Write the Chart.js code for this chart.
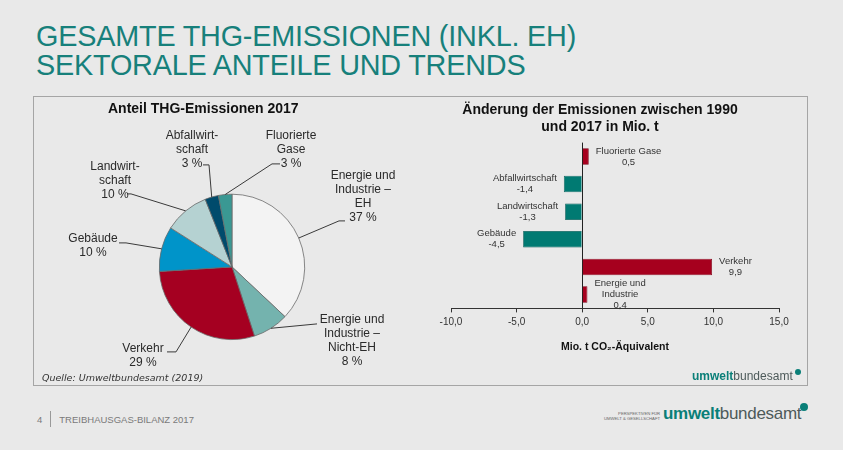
<!DOCTYPE html>
<html><head><meta charset="utf-8">
<script src="https://cdn.jsdelivr.net/npm/chart.js@4.4.0/dist/chart.umd.min.js"></script>
<style>
html,body{margin:0;padding:0;}
body{width:843px;height:450px;background:#e9e9e9;position:relative;overflow:hidden;font-family:"Liberation Sans",Arial,sans-serif;}
#head{position:absolute;left:36px;top:22px;color:#17807b;font-size:28.8px;line-height:29px;letter-spacing:-0.2px;}
#panel{position:absolute;left:33px;top:96px;width:775px;height:290px;border:1px solid #a5a5a5;box-sizing:border-box;}
canvas{position:absolute;}
#pie{left:33px;top:97px;}
#bar{left:400px;top:97px;}
#src{position:absolute;left:42px;top:372px;font-family:"DejaVu Sans",Verdana,sans-serif;font-style:italic;font-size:9.5px;color:#333;}
.logo{position:absolute;white-space:nowrap;}
.logo b{color:#0a7f78;}
.logo span.b{color:#4d5a5a;}
.dot{display:inline-block;border-radius:50%;background:#0a7f78;position:absolute;}
#plogo{left:692px;top:369px;font-size:12px;}
#foot{position:absolute;left:37px;top:412px;font-size:9.5px;color:#7a7a7a;}
#foot .sep{display:inline-block;width:1px;height:16px;background:#999;vertical-align:middle;margin:0 8px 0 8px;position:relative;top:-1px;}
#flogo{left:663px;top:404px;font-size:17px;letter-spacing:-0.3px;}
#persp{position:absolute;left:596px;top:411px;font-size:4.2px;line-height:5px;color:#666;text-align:right;width:64px;}
</style></head><body>
<div id="head">GESAMTE THG-EMISSIONEN (INKL. EH)<br>SEKTORALE ANTEILE UND TRENDS</div>
<div id="panel"></div>
<canvas id="pie" width="397" height="291"></canvas>
<canvas id="bar" width="408" height="291"></canvas>
<div id="src">Quelle: Umweltbundesamt (2019)</div>
<div id="plogo" class="logo"><b>umwelt</b><span class="b">bundesamt</span><span class="dot" style="width:6px;height:6px;left:103px;top:0px;"></span></div>
<div id="foot">4<span class="sep"></span>TREIBHAUSGAS-BILANZ 2017</div>
<div id="persp">PERSPEKTIVEN FÜR<br>UMWELT &amp; GESELLSCHAFT</div>
<div id="flogo" class="logo"><b>umwelt</b><span class="b">bundesamt</span><span class="dot" style="width:8px;height:8px;left:137px;top:-1px;"></span></div>
<script>
// ---------- data ----------
const pieCategories = ["Energie und Industrie – EH","Energie und Industrie – Nicht-EH","Verkehr","Gebäude","Landwirtschaft","Abfallwirtschaft","Fluorierte Gase"];
const pieLabelLines = [["Energie und","Industrie –","EH"],["Energie und","Industrie –","Nicht-EH"],["Verkehr"],["Gebäude"],["Landwirt-","schaft"],["Abfallwirt-","schaft"],["Fluorierte","Gase"]];
const pieShares = [37, 8, 29, 10, 10, 3, 3];
const barCategories = ["Fluorierte Gase","Abfallwirtschaft","Landwirtschaft","Gebäude","Verkehr","Energie und Industrie"];
const barLabelLines = [["Fluorierte Gase"],["Abfallwirtschaft"],["Landwirtschaft"],["Gebäude"],["Verkehr"],["Energie und","Industrie"]];
const barChanges = [0.5, -1.4, -1.3, -4.5, 9.9, 0.4];
const xTickValues = [-10, -5, 0, 5, 10, 15];

// ---------- styles / layout ----------
const FONT = "'Liberation Sans', Arial, sans-serif";
const pieColors = ['#f3f3f3','#74b3ae','#a50021','#0094c9','#b5d2d2','#004b6c','#3a9893'];
// label placement relative to pie centre: text (first-line centre), elbow, end of leader line
const pieLabelLayout = [
  {text:[131,-91], elbow:[107,-46], end:[113,-46]},
  {text:[120,53],  elbow:[85,57],   end:[85,57]},
  {text:[-89,82],  elbow:[-56,85],  end:[-65,85]},
  {text:[-139,-28],elbow:[-106,-24],end:[-113,-24]},
  {text:[-117,-100],elbow:[-101,-73],end:[-105,-73]},
  {text:[-40,-131],elbow:[-23,-102],end:[-29,-102]},
  {text:[59,-131], elbow:[40,-103], end:[48,-103]}
];
const fmt = v => v.toFixed(1).replace('.', ',');

const pieLabelPlugin = {
  id: 'pieLabels',
  afterDatasetsDraw(chart) {
    const ctx = chart.ctx;
    const meta = chart.getDatasetMeta(0);
    ctx.save();
    ctx.font = '12px ' + FONT;
    ctx.fillStyle = '#2a2a2a';
    ctx.textAlign = 'center';
    ctx.textBaseline = 'middle';
    ctx.strokeStyle = '#3a3a3a';
    ctx.lineWidth = 1;
    meta.data.forEach((arc, i) => {
      const p = arc.getProps(['x','y','startAngle','endAngle','outerRadius'], true);
      const mid = (p.startAngle + p.endAngle) / 2;
      const sx = p.x + Math.cos(mid) * p.outerRadius;
      const sy = p.y + Math.sin(mid) * p.outerRadius;
      const L = pieLabelLayout[i];
      ctx.beginPath();
      ctx.moveTo(sx, sy);
      ctx.lineTo(p.x + L.elbow[0], p.y + L.elbow[1]);
      ctx.lineTo(p.x + L.end[0], p.y + L.end[1]);
      ctx.stroke();
      const lines = pieLabelLines[i].concat([pieShares[i] + ' %']);
      lines.forEach((t, k) => ctx.fillText(t, p.x + L.text[0], p.y + L.text[1] + k * 14));
    });
    ctx.restore();
  }
};

new Chart(document.getElementById('pie'), {
  type: 'pie',
  data: { labels: pieCategories, datasets: [{ data: pieShares, backgroundColor: pieColors, borderColor: '#6a6a6a', borderWidth: 0.8 }] },
  options: {
    responsive: false, animation: false,
    layout: { padding: { left: 75, right: 74, top: 0, bottom: 48 } },
    plugins: {
      legend: { display: false }, tooltip: { enabled: false },
      title: { display: true, align: 'start', text: 'Anteil THG-Emissionen 2017', color: '#111', font: { family: FONT, size: 14, weight: 'bold' }, padding: { top: 4, bottom: 76 } }
    }
  },
  plugins: [pieLabelPlugin]
});

const barLabelPlugin = {
  id: 'barLabels',
  afterDatasetsDraw(chart) {
    const ctx = chart.ctx;
    const meta = chart.getDatasetMeta(0);
    ctx.save();
    ctx.font = '9.5px ' + FONT;
    ctx.fillStyle = '#333';
    ctx.textAlign = 'center';
    ctx.textBaseline = 'middle';
    meta.data.forEach((bar, i) => {
      const v = barChanges[i];
      const lines = barLabelLines[i].concat([fmt(v)]);
      const w = Math.max(...lines.map(t => ctx.measureText(t).width));
      const cx = v >= 0 ? bar.x + 7 + w / 2 : bar.x - 7 - w / 2;
      const lh = 11;
      const y0 = bar.y - (lines.length - 1) * lh / 2;
      lines.forEach((t, k) => ctx.fillText(t, cx, y0 + k * lh));
    });
    ctx.restore();
  }
};

new Chart(document.getElementById('bar'), {
  type: 'bar',
  data: { labels: barCategories, datasets: [{
    data: barChanges,
    backgroundColor: c => c.raw >= 0 ? '#a6001e' : '#007a72',
    borderColor: c => c.raw >= 0 ? '#7a0016' : '#005a54',
    borderWidth: 0.8,
    barPercentage: 0.6, categoryPercentage: 1
  }] },
  options: {
    indexAxis: 'y', responsive: false, animation: false,
    layout: { padding: { left: 21, right: 29, top: 0, bottom: 35 } },
    plugins: {
      legend: { display: false }, tooltip: { enabled: false },
      title: { display: true, text: ['Änderung der Emissionen zwischen 1990', 'und 2017 in Mio. t'], color: '#111', font: { family: FONT, size: 14, weight: 'bold' }, padding: { top: 5, bottom: 7 } }
    },
    scales: {
      x: {
        type: 'linear', min: xTickValues[0], max: xTickValues[xTickValues.length - 1],
        afterBuildTicks: s => { s.ticks = xTickValues.map(v => ({ value: v })); },
        ticks: { callback: v => fmt(v), color: '#333', font: { family: FONT, size: 10 }, padding: 4, maxRotation: 0 },
        grid: { color: c => (c.tick && c.tick.value === 0) ? '#222' : 'rgba(0,0,0,0)', tickColor: '#333', tickLength: 4, lineWidth: 1 },
        border: { display: true, color: '#333', width: 1 },
        title: { display: true, text: 'Mio. t CO₂-Äquivalent', color: '#111', font: { family: FONT, size: 10.5, weight: 'bold' }, padding: { top: 8, bottom: 0 } }
      },
      y: {
        display: true,
        ticks: { display: false },
        grid: { display: false },
        border: { display: false },
        afterFit: s => { s.width = 30; }
      }
    }
  },
  plugins: [barLabelPlugin]
});
</script>
</body></html>
